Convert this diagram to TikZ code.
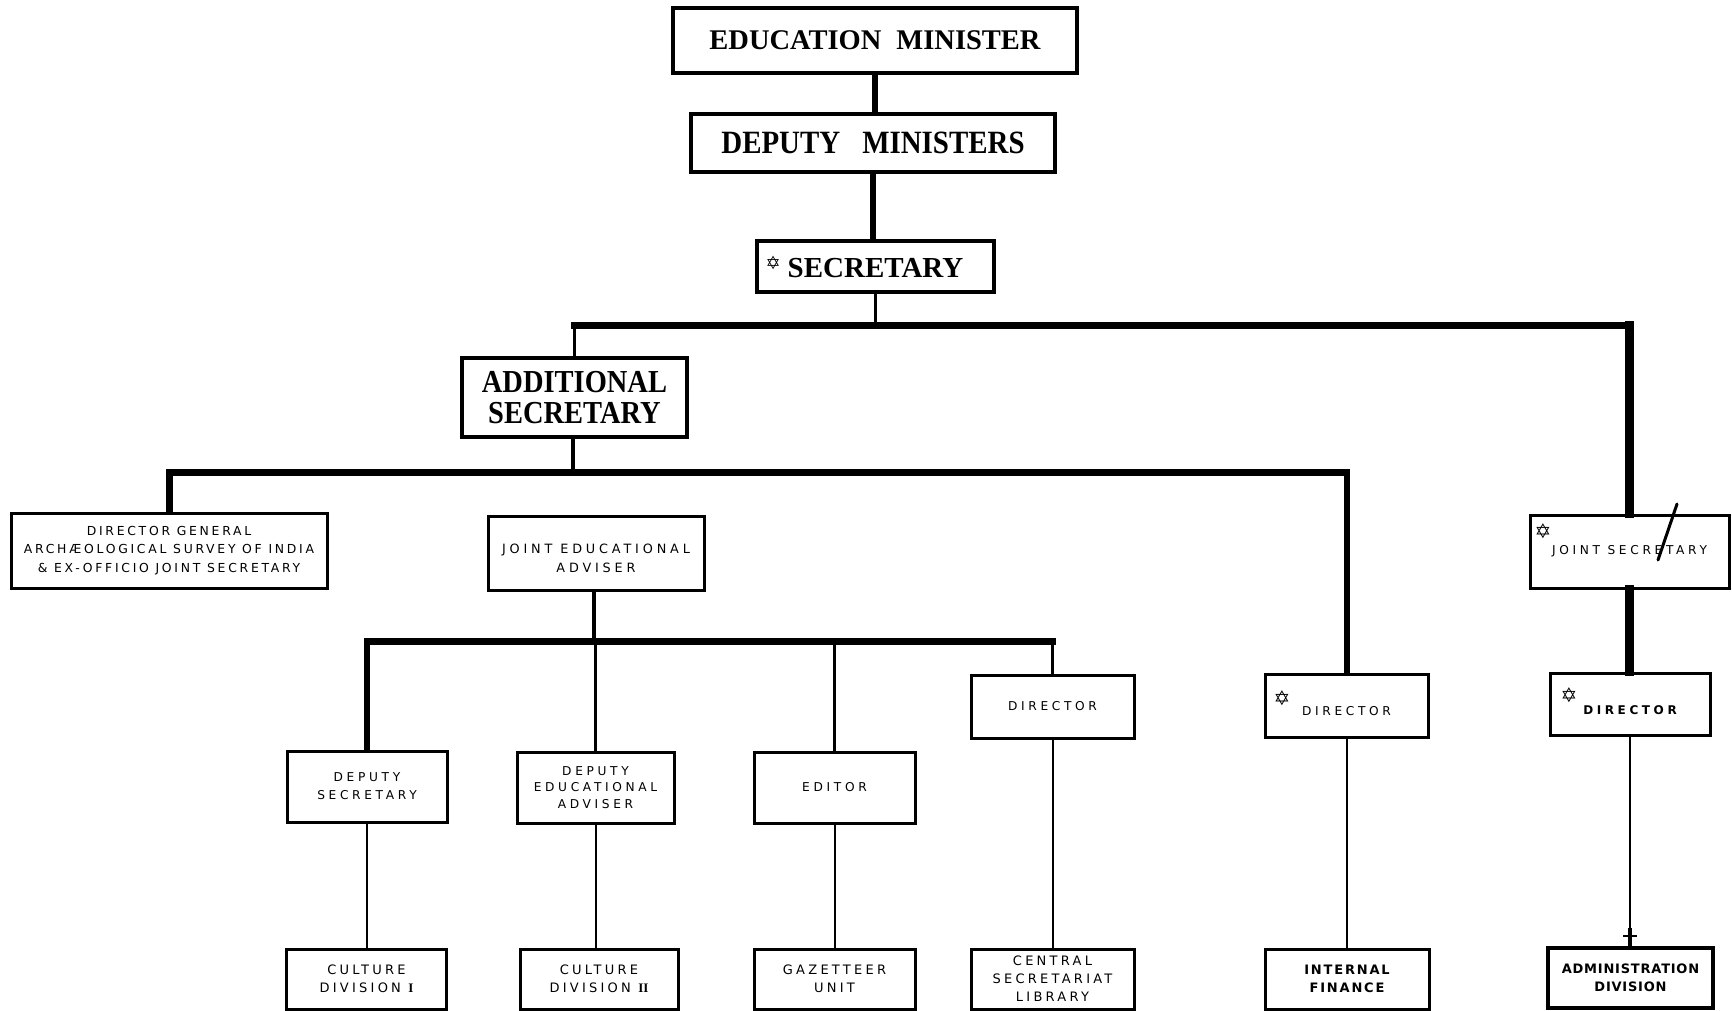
\documentclass[tikz,border=0pt]{standalone}
\usepackage{fontspec}
\setmainfont{Liberation Serif}
\newfontfamily\titlefont{Liberation Serif}
\newfontfamily\condfont[FakeStretch=0.89]{Liberation Serif}
\newfontfamily\midfont[LetterSpace=30]{DejaVu Sans}
\newfontfamily\dgfont[LetterSpace=22]{DejaVu Sans}
\newfontfamily\botfont[LetterSpace=25]{DejaVu Sans}
\newfontfamily\iffont[LetterSpace=14]{DejaVu Sans}
\newfontfamily\admfont[LetterSpace=6]{DejaVu Sans}
\newfontfamily\starfont{DejaVu Sans}
\newcommand\shiftdown[2]{\raisebox{-#1}[\height][\depth]{#2}}
\begin{document}
\begin{tikzpicture}[x=1pt,y=-1pt,line cap=rect,line join=miter]
\tikzset{
  box/.style={draw, inner sep=0pt, align=center, line width=3pt},
  title/.style={box, line width=4pt},
  mid/.style={box, font=\midfont\fontsize{12.2}{18}\selectfont},
  bot/.style={box, minimum width=#1, minimum height=60pt, font=\botfont\fontsize{13}{18}\selectfont},
  bus/.style={line width=7pt},
  heavy/.style={line width=6pt},
  vheavy/.style={line width=9pt},
  light/.style={line width=3.5pt},
  link/.style={line width=2pt},
  starlbl/.style={inner sep=0pt, anchor=north west, font=\starfont\fontsize{20}{20}\selectfont}
}
\useasboundingbox[fill=white] (0,0) rectangle (1732,1010);

% top level
\node[title, minimum width=404pt, minimum height=65pt,
      font=\titlefont\bfseries\fontsize{28.5}{30}\selectfont] (em) at (875,40.5)
      {EDUCATION\hspace{15pt}MINISTER};
\node[title, line width=3.5pt, minimum width=364pt, minimum height=58pt,
      font=\condfont\bfseries\fontsize{32.5}{32}\selectfont] (dm) at (873,143)
      {DEPUTY\hspace{22pt}MINISTERS};
\node[title, line width=3.5pt, minimum width=237pt, minimum height=51pt,
      font=\titlefont\bfseries\fontsize{29}{30}\selectfont] (sec) at (875.5,266.5)
      {\llap{\raisebox{8pt}{\starfont\fontsize{18}{18}\selectfont ✡}\hspace{7pt}}SECRETARY};
\node[title, minimum width=225pt, minimum height=79pt,
      font=\condfont\bfseries\fontsize{32}{31}\selectfont] (as) at (574.5,397.5)
      {ADDITIONAL\\SECRETARY};

% second level
\node[mid, font=\dgfont\fontsize{12.4}{18.5}\selectfont, minimum width=316pt, minimum height=75pt] (dg) at (169,550.5)
      {DIRECTOR GENERAL\\ARCHÆOLOGICAL SURVEY OF INDIA\\\& EX-OFFICIO JOINT SECRETARY};
\node[mid, font=\midfont\fontsize{12.8}{19}\selectfont, minimum width=216pt, minimum height=74pt] (jea) at (596,553)
      {\shiftdown{5pt}{JOINT EDUCATIONAL}\\\shiftdown{5pt}{ADVISER}};
\node[mid, minimum width=199pt, minimum height=73pt,
      label={[starlbl, xshift=6pt, yshift=-10pt]north west:✡}] (js) at (1629.5,551.5)
      {JOINT SECRETARY};

% directors
\node[mid, minimum width=163pt, minimum height=63pt] (dir1) at (1052.5,706.5) {DIRECTOR};
\node[mid, minimum width=163pt, minimum height=63pt,
      label={[starlbl, xshift=10pt, yshift=-18pt]north west:✡}] (dir2) at (1346.5,705.5)
      {\shiftdown{6pt}{DIRECTOR}};
\node[mid, minimum width=160pt, minimum height=62pt, font=\midfont\bfseries\fontsize{12}{18}\selectfont,
      label={[starlbl, xshift=12pt, yshift=-16pt]north west:✡}] (dir3) at (1630,704)
      {\shiftdown{6pt}{DIRECTOR}};

% third level
\node[mid, minimum width=160pt, minimum height=71pt] (ds) at (367,786.5) {DEPUTY\\SECRETARY};
\node[mid, font=\midfont\fontsize{12.2}{16.7}\selectfont, minimum width=157pt, minimum height=71pt] (dea) at (595.5,787.5)
      {DEPUTY\\EDUCATIONAL\\ADVISER};
\node[mid, minimum width=161pt, minimum height=71pt] (ed) at (834.5,787.5) {EDITOR};

% bottom row
\node[bot=160pt] (cd1) at (366.5,979) {CULTURE\\DIVISION {\rmfamily\bfseries I}};
\node[bot=158pt] (cd2) at (599,979) {CULTURE\\DIVISION {\rmfamily\bfseries II}};
\node[bot=161pt] (gz) at (834.5,979) {GAZETTEER\\UNIT};
\node[bot=163pt] (csl) at (1052.5,979) {CENTRAL\\SECRETARIAT\\LIBRARY};
\node[bot=164pt, font=\iffont\bfseries\fontsize{13}{18}\selectfont] (if) at (1347,979) {INTERNAL\\FINANCE};
\node[bot=165pt, line width=4pt, font=\admfont\bfseries\fontsize{13}{18}\selectfont] (ad) at (1630.5,978) {ADMINISTRATION\\DIVISION};

% bus levels
\coordinate (b1) at (873,325);
\coordinate (b2) at (573,472);
\coordinate (b3) at (594,641);

% connectors top
\draw[heavy] (em.south) -- (em.south |- dm.north);
\draw[heavy] (dm.south) -- (dm.south |- sec.north);
\draw[light] (sec.south) -- (sec.south |- b1);
\draw[bus] (as.north |- b1) -- (js.north |- b1);
\draw[light] (as.north |- b1) -- (as.north);
\draw[vheavy] (js.north |- b1) -- (js.north);

% second bus
\draw[light] (as.south -| b2) -- (b2);
\draw[bus] (dg.north |- b2) -- (dir2.north |- b2);
\draw[bus] (dg.north |- b2) -- (dg.north);
\draw[light] (jea.north -| b3) -- (jea.north -| b3 |- b2);
\draw[heavy] (dir2.north |- b2) -- (dir2.north);
\draw[vheavy] (js.south) -- (js.south |- dir3.north);

% third bus
\draw[light] (jea.south -| b3) -- (b3);
\draw[bus] (ds.north |- b3) -- (dir1.north |- b3);
\draw[heavy] (ds.north |- b3) -- (ds.north);
\draw[light] (dea.north |- b3) -- (dea.north);
\draw[light] (ed.north |- b3) -- (ed.north);
\draw[light] (dir1.north |- b3) -- (dir1.north);

% lower links
\draw[link] (ds.south) -- (ds.south |- cd1.north);
\draw[link] (dea.south) -- (dea.south |- cd2.north);
\draw[link] (ed.south) -- (ed.south |- gz.north);
\draw[link] (dir1.south) -- (dir1.south |- csl.north);
\draw[link] (dir2.south) -- (dir2.south |- if.north);
\draw[link] (dir3.south) -- (dir3.south |- ad.north);
\draw[line width=4pt] (dir3.south |- 0,930) -- (dir3.south |- ad.north);
\draw[line width=2pt] (1624,936) -- (1636,936);

% hand mark on joint secretary
\draw[line width=3pt, line cap=round] (1677,504) -- (1658,560);
\end{tikzpicture}
\end{document}
